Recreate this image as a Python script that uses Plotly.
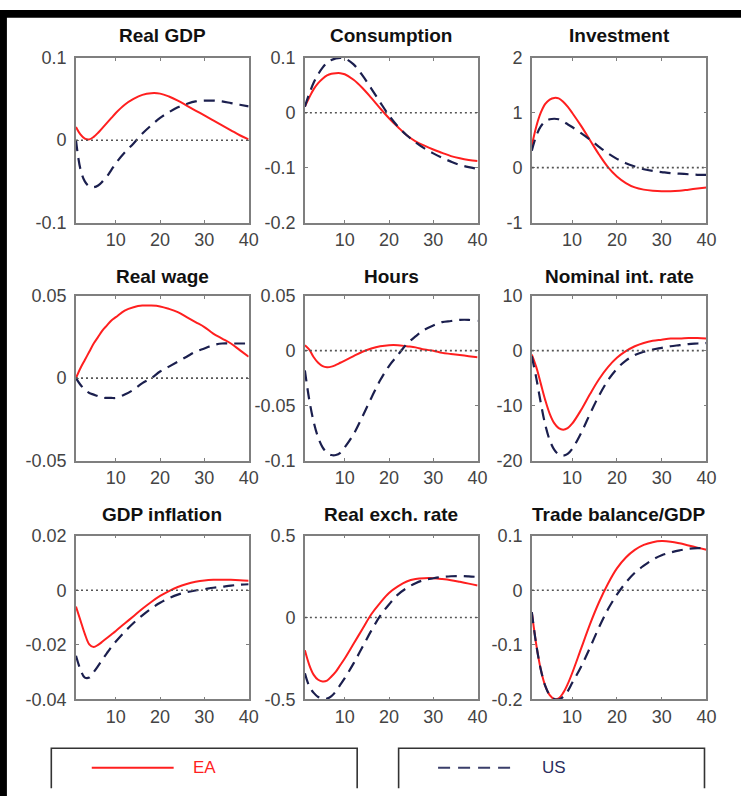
import plotly.graph_objects as go

W, H = 751, 806

quarters = [1, 2, 3, 4, 5, 6, 7, 8, 9, 10, 12, 14, 16, 18, 20, 22, 24, 26, 28, 30, 32, 34, 36, 38, 40]

titles = ["Real GDP", "Consumption", "Investment",
          "Real wage", "Hours", "Nominal int. rate",
          "GDP inflation", "Real exch. rate", "Trade balance/GDP"]

gdp_ea = [0.016, 0.007, 0.002, 0.001, 0.004, 0.009, 0.015, 0.021, 0.027, 0.033, 0.043, 0.050, 0.055, 0.057, 0.0565, 0.053, 0.048, 0.042, 0.036, 0.030, 0.024, 0.018, 0.012, 0.006, 0.001]
gdp_us = [0.0, -0.035, -0.050, -0.056, -0.057, -0.055, -0.050, -0.044, -0.036, -0.028, -0.015, -0.004, 0.008, 0.018, 0.027, 0.034, 0.040, 0.044, 0.047, 0.048, 0.048, 0.047, 0.045, 0.043, 0.041]

cons_ea = [0.011, 0.028, 0.043, 0.054, 0.062, 0.068, 0.071, 0.072, 0.072, 0.070, 0.060, 0.045, 0.027, 0.008, -0.010, -0.026, -0.041, -0.052, -0.060, -0.067, -0.073, -0.079, -0.083, -0.086, -0.088]
cons_us = [0.011, 0.035, 0.055, 0.070, 0.082, 0.091, 0.096, 0.099, 0.100, 0.099, 0.088, 0.068, 0.044, 0.019, -0.005, -0.025, -0.041, -0.054, -0.065, -0.074, -0.082, -0.089, -0.095, -0.099, -0.102]

inv_ea = [0.40, 0.75, 1.00, 1.16, 1.24, 1.27, 1.26, 1.20, 1.11, 1.00, 0.76, 0.50, 0.24, 0.01, -0.16, -0.28, -0.36, -0.40, -0.42, -0.43, -0.43, -0.42, -0.40, -0.38, -0.36]
inv_us = [0.31, 0.58, 0.75, 0.84, 0.88, 0.89, 0.88, 0.84, 0.79, 0.74, 0.63, 0.51, 0.38, 0.26, 0.16, 0.08, 0.02, -0.03, -0.06, -0.08, -0.10, -0.11, -0.12, -0.13, -0.13]

wage_ea = [0.000, 0.006, 0.011, 0.016, 0.021, 0.025, 0.029, 0.032, 0.035, 0.037, 0.041, 0.043, 0.044, 0.044, 0.0435, 0.042, 0.040, 0.037, 0.034, 0.031, 0.027, 0.024, 0.021, 0.017, 0.013]
wage_us = [0.0, -0.004, -0.007, -0.009, -0.010, -0.011, -0.012, -0.012, -0.012, -0.012, -0.010, -0.007, -0.003, 0.000, 0.004, 0.007, 0.010, 0.013, 0.016, 0.018, 0.020, 0.021, 0.021, 0.021, 0.021]

hours_ea = [0.005, 0.001, -0.006, -0.011, -0.014, -0.015, -0.0145, -0.013, -0.011, -0.009, -0.005, -0.001, 0.002, 0.004, 0.005, 0.005, 0.004, 0.003, 0.001, 0.000, -0.002, -0.003, -0.004, -0.005, -0.006]
hours_us = [-0.018, -0.045, -0.065, -0.079, -0.088, -0.093, -0.095, -0.095, -0.093, -0.088, -0.076, -0.060, -0.043, -0.027, -0.014, -0.004, 0.006, 0.013, 0.019, 0.023, 0.026, 0.027, 0.028, 0.028, 0.027]

rate_ea = [-0.7, -3.0, -6.0, -9.0, -11.5, -13.2, -14.1, -14.4, -14.1, -13.3, -10.8, -7.9, -5.2, -3.0, -1.3, -0.1, 0.8, 1.4, 1.8, 2.0, 2.2, 2.2, 2.3, 2.3, 2.2]
rate_us = [-1.0, -5.0, -9.5, -13.5, -16.3, -18.0, -18.9, -19.1, -18.8, -17.9, -15.0, -11.5, -8.2, -5.4, -3.3, -1.8, -0.8, -0.2, 0.2, 0.5, 0.8, 1.0, 1.2, 1.3, 1.4]

infl_ea = [-0.006, -0.011, -0.016, -0.0198, -0.0208, -0.0200, -0.0188, -0.0175, -0.0162, -0.0149, -0.0122, -0.0095, -0.0068, -0.0043, -0.0021, -0.0003, 0.0012, 0.0023, 0.0031, 0.0036, 0.0038, 0.0038, 0.0038, 0.0037, 0.0035]
infl_us = [-0.024, -0.029, -0.032, -0.032, -0.030, -0.0277, -0.0253, -0.0230, -0.0208, -0.0188, -0.0152, -0.0120, -0.0092, -0.0067, -0.0046, -0.0029, -0.0016, -0.0007, -0.0001, 0.0004, 0.0009, 0.0013, 0.0017, 0.0020, 0.0022]

rer_ea = [-0.20, -0.29, -0.35, -0.38, -0.39, -0.385, -0.36, -0.33, -0.29, -0.25, -0.16, -0.07, 0.02, 0.09, 0.15, 0.19, 0.22, 0.235, 0.24, 0.24, 0.235, 0.228, 0.218, 0.207, 0.195]
rer_us = [-0.34, -0.42, -0.46, -0.485, -0.495, -0.495, -0.48, -0.45, -0.41, -0.37, -0.28, -0.18, -0.08, 0.01, 0.08, 0.14, 0.18, 0.21, 0.23, 0.24, 0.248, 0.252, 0.253, 0.251, 0.248]

tb_ea = [-0.04, -0.10, -0.145, -0.175, -0.192, -0.199, -0.198, -0.188, -0.172, -0.152, -0.107, -0.062, -0.022, 0.012, 0.040, 0.060, 0.074, 0.083, 0.088, 0.090, 0.089, 0.086, 0.082, 0.078, 0.074]
tb_us = [-0.04, -0.10, -0.145, -0.175, -0.192, -0.199, -0.200, -0.195, -0.185, -0.170, -0.140, -0.105, -0.068, -0.035, -0.008, 0.014, 0.032, 0.045, 0.056, 0.064, 0.069, 0.073, 0.076, 0.077, 0.077]

ea_series = [gdp_ea, cons_ea, inv_ea, wage_ea, hours_ea, rate_ea, infl_ea, rer_ea, tb_ea]
us_series = [gdp_us, cons_us, inv_us, wage_us, hours_us, rate_us, infl_us, rer_us, tb_us]

y_ranges = [[-0.1, 0.1], [-0.2, 0.1], [-1, 2],
            [-0.05, 0.05], [-0.1, 0.05], [-20, 10],
            [-0.04, 0.02], [-0.5, 0.5], [-0.2, 0.1]]
y_ticks = [[-0.1, 0, 0.1], [-0.2, -0.1, 0, 0.1], [-1, 0, 1, 2],
           [-0.05, 0, 0.05], [-0.1, -0.05, 0, 0.05], [-20, -10, 0, 10],
           [-0.04, -0.02, 0, 0.02], [-0.5, 0, 0.5], [-0.2, -0.1, 0, 0.1]]
y_labels = [["-0.1", "0", "0.1"], ["-0.2", "-0.1", "0", "0.1"], ["-1", "0", "1", "2"],
            ["-0.05", "0", "0.05"], ["-0.1", "-0.05", "0", "0.05"], ["-20", "-10", "0", "10"],
            ["-0.04", "-0.02", "0", "0.02"], ["-0.5", "0", "0.5"], ["-0.2", "-0.1", "0", "0.1"]]
x_ticks = [10, 20, 30, 40]
x_labels = ["10", "20", "30", "40"]
legend_names = ["EA", "US"]

RED = "#ff1f1f"
NAVY = "#1b1f4e"
FRAME = "#7f7f7f"
FONT = "Liberation Sans, Arial, sans-serif"

# pixel layout
col_px = [(77, 252), (309, 484), (539, 716)]
row_px = [(49, 218), (293, 462), (539, 707)]
title_px = [26, 273, 517]

def px_x(p):
    return p / W

def px_y(p):
    return 1 - p / H

fig = go.Figure()
annotations = []
shapes = []

for i in range(9):
    r, c = divmod(i, 3)
    n = i + 1
    xa = "x" if n == 1 else f"x{n}"
    ya = "y" if n == 1 else f"y{n}"
    fig.add_trace(go.Scatter(x=quarters, y=ea_series[i], mode="lines",
                             line=dict(color=RED, width=2, shape="spline", smoothing=1.0),
                             xaxis=xa, yaxis=ya, showlegend=False, hoverinfo="skip"))
    fig.add_trace(go.Scatter(x=quarters, y=us_series[i], mode="lines",
                             line=dict(color=NAVY, width=2.2, dash="11px,7px", shape="spline", smoothing=1.0),
                             xaxis=xa, yaxis=ya, showlegend=False, hoverinfo="skip"))
    axis_common = dict(showline=True, linecolor=FRAME, linewidth=1.6, mirror="ticks",
                       ticks="inside", ticklen=3, tickcolor=FRAME, tickwidth=1,
                       showgrid=False, zeroline=False,
                       tickfont=dict(family=FONT, size=18, color="#444444"))
    fig.layout[f"xaxis{n if n > 1 else ''}"] = dict(
        axis_common, domain=[px_x(col_px[c][0]), px_x(col_px[c][1])],
        range=[1, 40], tickvals=x_ticks, ticktext=x_labels, anchor=ya)
    fig.layout[f"yaxis{n if n > 1 else ''}"] = dict(
        axis_common, domain=[px_y(row_px[r][1]), px_y(row_px[r][0])],
        range=y_ranges[i], tickvals=y_ticks[i], ticktext=y_labels[i], anchor=xa,
        ticklabelstandoff=4)
    # dotted zero reference line
    shapes.append(dict(type="line", xref=f"{xa} domain", yref=ya, x0=0, x1=1, y0=0, y1=0,
                       line=dict(color="#555555", width=1.6, dash="2px,3px")))
    annotations.append(dict(text=f"<b>{titles[i]}</b>", xref="paper", yref="paper",
                            x=px_x((col_px[c][0] + col_px[c][1]) / 2), y=px_y(title_px[r]),
                            xanchor="center", yanchor="middle", showarrow=False,
                            font=dict(family=FONT, size=19, color="#111111")))

# black frame strips (left and top)
shapes.append(dict(type="rect", xref="paper", yref="paper", x0=0, x1=px_x(7), y0=0, y1=1,
                   fillcolor="black", line=dict(width=0), layer="above"))
shapes.append(dict(type="rect", xref="paper", yref="paper", x0=0, x1=1, y0=px_y(8), y1=1,
                   fillcolor="black", line=dict(width=0), layer="above"))

# legend boxes (open at bottom)
box_px = [(52, 362), (404, 714)]
box_top, box_bottom = 757, 798
for (bx0, bx1) in box_px:
    shapes.append(dict(type="path", xref="paper", yref="paper",
                       path=f"M {px_x(bx0)} {px_y(box_bottom)} L {px_x(bx0)} {px_y(box_top)} "
                            f"L {px_x(bx1)} {px_y(box_top)} L {px_x(bx1)} {px_y(box_bottom)}",
                       line=dict(color="#333333", width=1.6)))

leg_y = 777
shapes.append(dict(type="line", xref="paper", yref="paper", x0=px_x(93), x1=px_x(176),
                   y0=px_y(leg_y), y1=px_y(leg_y), line=dict(color=RED, width=2)))
shapes.append(dict(type="line", xref="paper", yref="paper", x0=px_x(444), x1=px_x(524),
                   y0=px_y(leg_y), y1=px_y(leg_y), line=dict(color="#3a3e6a", width=2, dash="12px,8px")))
annotations.append(dict(text=legend_names[0], xref="paper", yref="paper", x=px_x(194), y=px_y(leg_y),
                        xanchor="left", yanchor="middle", showarrow=False,
                        font=dict(family=FONT, size=17, color=RED)))
annotations.append(dict(text=legend_names[1], xref="paper", yref="paper", x=px_x(547), y=px_y(leg_y),
                        xanchor="left", yanchor="middle", showarrow=False,
                        font=dict(family=FONT, size=17, color="#2a2e5e")))

fig.update_layout(width=W, height=H, margin=dict(l=0, r=0, t=0, b=0),
                  paper_bgcolor="white", plot_bgcolor="white",
                  shapes=shapes, annotations=annotations, showlegend=False,
                  font=dict(family=FONT))

fig.write_html("out.html", config={"displayModeBar": False},
               post_script="document.body.style.margin='0';document.body.style.overflow='hidden';")
